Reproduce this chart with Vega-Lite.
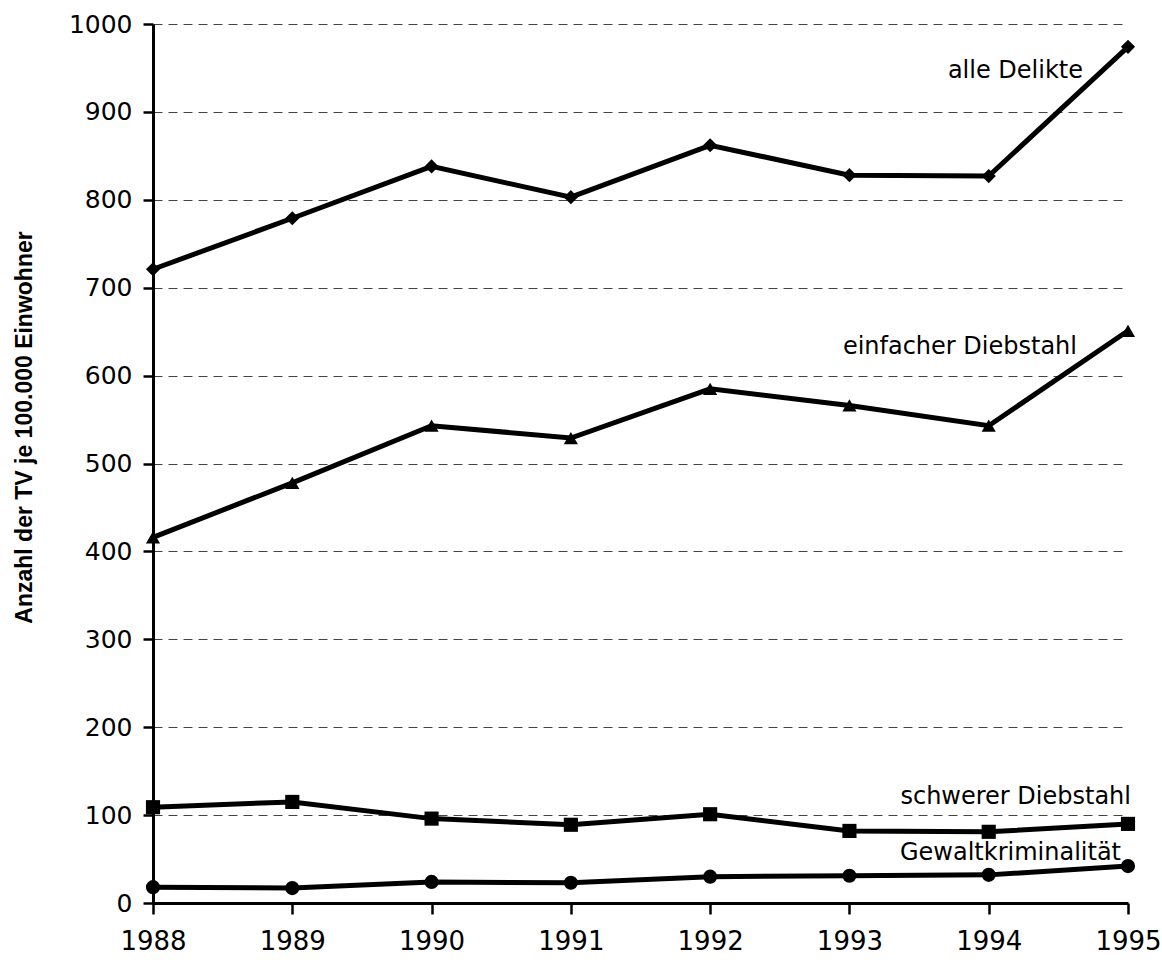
{
  "$schema": "https://vega.github.io/schema/vega-lite/v6.json",
  "autosize": {"type": "none"},
  "width": 975,
  "height": 879,
  "padding": {"left": 153, "top": 24, "right": 34, "bottom": 57},
  "background": "white",
  "config": {
    "font": "DejaVu Sans",
    "view": {"stroke": null}
  },
  "datasets": {
    "series": [
      {"jahr": 1988, "wert": 721, "reihe": "alle Delikte"},
      {"jahr": 1989, "wert": 779, "reihe": "alle Delikte"},
      {"jahr": 1990, "wert": 838, "reihe": "alle Delikte"},
      {"jahr": 1991, "wert": 803, "reihe": "alle Delikte"},
      {"jahr": 1992, "wert": 862, "reihe": "alle Delikte"},
      {"jahr": 1993, "wert": 828, "reihe": "alle Delikte"},
      {"jahr": 1994, "wert": 827, "reihe": "alle Delikte"},
      {"jahr": 1995, "wert": 974, "reihe": "alle Delikte"},
      {"jahr": 1988, "wert": 416, "reihe": "einfacher Diebstahl"},
      {"jahr": 1989, "wert": 478, "reihe": "einfacher Diebstahl"},
      {"jahr": 1990, "wert": 543, "reihe": "einfacher Diebstahl"},
      {"jahr": 1991, "wert": 529, "reihe": "einfacher Diebstahl"},
      {"jahr": 1992, "wert": 585, "reihe": "einfacher Diebstahl"},
      {"jahr": 1993, "wert": 566, "reihe": "einfacher Diebstahl"},
      {"jahr": 1994, "wert": 543, "reihe": "einfacher Diebstahl"},
      {"jahr": 1995, "wert": 651, "reihe": "einfacher Diebstahl"},
      {"jahr": 1988, "wert": 109, "reihe": "schwerer Diebstahl"},
      {"jahr": 1989, "wert": 115, "reihe": "schwerer Diebstahl"},
      {"jahr": 1990, "wert": 96, "reihe": "schwerer Diebstahl"},
      {"jahr": 1991, "wert": 89, "reihe": "schwerer Diebstahl"},
      {"jahr": 1992, "wert": 101, "reihe": "schwerer Diebstahl"},
      {"jahr": 1993, "wert": 82, "reihe": "schwerer Diebstahl"},
      {"jahr": 1994, "wert": 81, "reihe": "schwerer Diebstahl"},
      {"jahr": 1995, "wert": 90, "reihe": "schwerer Diebstahl"},
      {"jahr": 1988, "wert": 18, "reihe": "Gewaltkriminalität"},
      {"jahr": 1989, "wert": 17, "reihe": "Gewaltkriminalität"},
      {"jahr": 1990, "wert": 24, "reihe": "Gewaltkriminalität"},
      {"jahr": 1991, "wert": 23, "reihe": "Gewaltkriminalität"},
      {"jahr": 1992, "wert": 30, "reihe": "Gewaltkriminalität"},
      {"jahr": 1993, "wert": 31, "reihe": "Gewaltkriminalität"},
      {"jahr": 1994, "wert": 32, "reihe": "Gewaltkriminalität"},
      {"jahr": 1995, "wert": 42, "reihe": "Gewaltkriminalität"}
    ],
    "labels": [
      {"jahr": 1995, "wert": 946, "text": "alle Delikte"},
      {"jahr": 1995, "wert": 633, "text": "einfacher Diebstahl"},
      {"jahr": 1995, "wert": 121, "text": "schwerer Diebstahl"},
      {"jahr": 1995, "wert": 57, "text": "Gewaltkriminalität"}
    ]
  },
  "layer": [
    {
      "data": {"name": "series"},
      "mark": {"type": "line", "color": "black", "strokeWidth": 5},
      "encoding": {
        "x": {
          "field": "jahr", "type": "quantitative",
          "scale": {"domain": [1988, 1995], "nice": false, "zero": false},
          "axis": {
            "title": null, "values": [1988, 1989, 1990, 1991, 1992, 1993, 1994, 1995],
            "format": "d", "grid": false, "domainColor": "black", "domainWidth": 3,
            "tickColor": "black", "tickWidth": 2.5, "tickSize": 11,
            "labelFontSize": 26, "labelColor": "black", "labelPadding": 14,
            "labelFlush": false, "labelOverlap": false
          }
        },
        "y": {
          "field": "wert", "type": "quantitative",
          "scale": {"domain": [0, 1000], "nice": false},
          "axis": {
            "title": "Anzahl der TV je 100.000 Einwohner",
            "titleFont": "Liberation Sans",
            "titleFontSize": 23, "titleFontWeight": "bold", "titleColor": "black",
            "titlePadding": 32, "titleY": 403,
            "values": [0, 100, 200, 300, 400, 500, 600, 700, 800, 900, 1000],
            "format": "d",
            "grid": true, "gridColor": "#444444", "gridDash": [9, 6], "gridWidth": 1.2,
            "domainColor": "black", "domainWidth": 3,
            "tickColor": "black", "tickWidth": 2.5, "tickSize": 10,
            "labelFontSize": 25, "labelColor": "black", "labelPadding": 11,
            "labelFlush": false, "labelOverlap": false
          }
        },
        "detail": {"field": "reihe"}
      }
    },
    {
      "data": {"name": "series"},
      "mark": {"type": "point", "filled": true, "color": "black", "opacity": 1, "size": 200},
      "encoding": {
        "x": {"field": "jahr", "type": "quantitative"},
        "y": {"field": "wert", "type": "quantitative"},
        "shape": {
          "field": "reihe", "type": "nominal", "legend": null,
          "scale": {
            "domain": ["alle Delikte", "einfacher Diebstahl", "schwerer Diebstahl", "Gewaltkriminalität"],
            "range": ["diamond", "triangle-up", "square", "circle"]
          }
        }
      }
    },
    {
      "data": {"name": "labels"},
      "transform": [{"filter": "datum.text === 'alle Delikte'"}],
      "mark": {"type": "text", "align": "right", "baseline": "middle", "fontSize": 24, "color": "black", "dx": -45},
      "encoding": {
        "x": {"field": "jahr", "type": "quantitative"},
        "y": {"field": "wert", "type": "quantitative"},
        "text": {"field": "text"}
      }
    },
    {
      "data": {"name": "labels"},
      "transform": [{"filter": "datum.text === 'einfacher Diebstahl'"}],
      "mark": {"type": "text", "align": "right", "baseline": "middle", "fontSize": 24, "color": "black", "dx": -51},
      "encoding": {
        "x": {"field": "jahr", "type": "quantitative"},
        "y": {"field": "wert", "type": "quantitative"},
        "text": {"field": "text"}
      }
    },
    {
      "data": {"name": "labels"},
      "transform": [{"filter": "datum.text === 'schwerer Diebstahl'"}],
      "mark": {"type": "text", "align": "right", "baseline": "middle", "fontSize": 24, "color": "black", "dx": 3},
      "encoding": {
        "x": {"field": "jahr", "type": "quantitative"},
        "y": {"field": "wert", "type": "quantitative"},
        "text": {"field": "text"}
      }
    },
    {
      "data": {"name": "labels"},
      "transform": [{"filter": "datum.text === 'Gewaltkriminalität'"}],
      "mark": {"type": "text", "align": "right", "baseline": "middle", "fontSize": 24, "color": "black", "dx": -7},
      "encoding": {
        "x": {"field": "jahr", "type": "quantitative"},
        "y": {"field": "wert", "type": "quantitative"},
        "text": {"field": "text"}
      }
    }
  ]
}
